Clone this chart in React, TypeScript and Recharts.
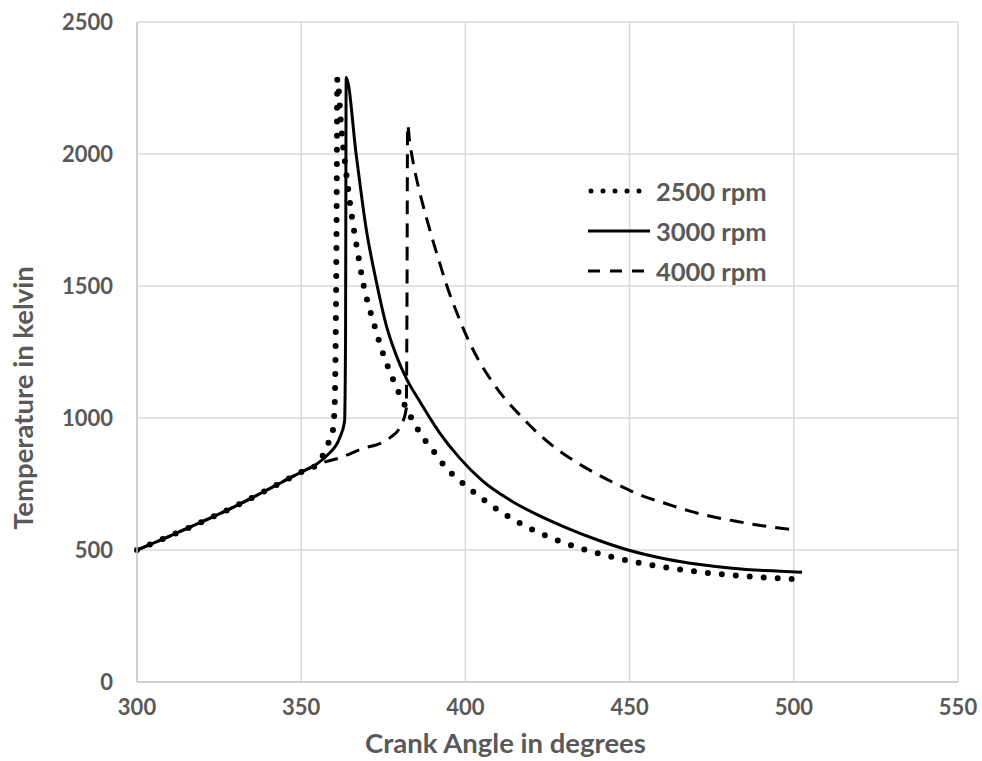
import React from 'react';
import {
  CartesianGrid,
  Label,
  Line,
  LineChart,
  XAxis,
  YAxis,
} from 'recharts';

// Compression stroke shared by all three speeds (deg, K)
const compressionAngle = [300, 310, 320, 330, 340, 350];
const compressionTemp = [500, 553, 608, 666, 730, 795];

// 2500 rpm
const angle2500 = [355, 358, 359.6, 360.2, 360.5, 360.8, 361, 362.2, 363.7, 364.7, 365.7, 367.3, 368.8, 370.8, 372.3, 374.4, 377.4, 380.5, 385, 387, 389.6, 392.1, 394.9, 397.9, 404.3, 411, 418.4, 428, 438.7, 450.9, 459.5, 468.1, 476.2, 484.8, 493.4, 502];
const temp2500 = [826, 898, 950, 1050, 1300, 1800, 2285, 2100, 1929, 1829, 1741, 1621, 1515, 1414, 1351, 1263, 1163, 1075, 968, 927, 887, 843, 801, 767, 702, 643, 590, 537, 493, 456, 437, 422, 410, 401, 394, 389];

// 3000 rpm
const angle3000 = [355, 358, 361.7, 363.2, 363.5, 363.7, 366.8, 369.8, 372.9, 375.9, 378.9, 382, 386, 392.1, 398.2, 405.3, 414.4, 422, 430.6, 440.7, 449.8, 461, 471.4, 481.2, 491.4, 502.5];
const temp3000 = [828, 860, 924, 987, 1300, 2290, 1992, 1716, 1515, 1351, 1239, 1150, 1065, 945, 849, 761, 683, 633, 585, 536, 499, 466, 445, 431, 422, 416];

// 4000 rpm
const angle4000 = [356.4, 361.7, 367.8, 376.9, 380.5, 382, 382.2, 382.4, 383, 384.5, 386, 388.1, 390.1, 392.1, 394.1, 397.7, 400.7, 403.7, 407.8, 411.9, 417, 422, 428.1, 434.1, 441.2, 447.3, 453.9, 461, 468.1, 475.7, 482.8, 490.4, 500];
const temp4000 = [830, 849, 880, 924, 975, 1037, 1400, 2110, 2050, 1942, 1860, 1760, 1672, 1590, 1510, 1389, 1301, 1226, 1144, 1075, 1006, 943, 880, 830, 780, 742, 705, 676, 648, 625, 608, 592, 577];

const xTicks = [300, 350, 400, 450, 500, 550];
const yTicks = [0, 500, 1000, 1500, 2000, 2500];

const toPoints = (angles: number[], temps: number[]) =>
  angles.map((angle, i) => ({ angle, temp: temps[i] }));

const compression = toPoints(compressionAngle, compressionTemp);
const rpm2500 = [...compression, ...toPoints(angle2500, temp2500)];
const rpm3000 = [...compression, ...toPoints(angle3000, temp3000)];
const rpm4000 = [...compression, ...toPoints(angle4000, temp4000)];

const TEXT = '#595959';
const FONT = 'Lato, "Open Sans", sans-serif';

const series = [
  { name: '2500 rpm', data: rpm2500, width: 6, dash: '0 14', cap: 'round' as const },
  { name: '3000 rpm', data: rpm3000, width: 3, dash: undefined, cap: 'butt' as const },
  { name: '4000 rpm', data: rpm4000, width: 3, dash: '14 9', cap: 'butt' as const },
];

const legendSample = [
  { width: 5, dash: '0 12', cap: 'round' as const },
  { width: 3, dash: undefined, cap: 'butt' as const },
  { width: 3, dash: '12 10', cap: 'butt' as const },
];

// legend box sits inside the plot, right of the 4000 rpm peak
function RpmLegend() {
  return (
    <div
      style={{
        position: 'absolute',
        left: 583,
        top: 171,
        fontFamily: FONT,
        fontWeight: 700,
        fontSize: 25.5,
        color: TEXT,
      }}
    >
      {series.map((s, i) => (
        <div key={s.name} style={{ display: 'flex', alignItems: 'center', height: 40 }}>
          <svg width={68} height={12} style={{ marginRight: 5 }}>
            <line
              x1={legendSample[i].cap === 'round' ? 8 : 5}
              x2={legendSample[i].cap === 'round' ? 68 : 67}
              y1={6}
              y2={6}
              stroke="#000"
              strokeWidth={legendSample[i].width}
              strokeDasharray={legendSample[i].dash}
              strokeLinecap={legendSample[i].cap}
            />
          </svg>
          <span>{s.name}</span>
        </div>
      ))}
    </div>
  );
}

const yTitle = (props: any) => {
  const vb = props.viewBox;
  const cx = 22;
  const cy = vb.y + vb.height / 2 + 46;
  return (
    <text
      x={cx}
      y={cy}
      transform={`rotate(-90, ${cx}, ${cy})`}
      textAnchor="middle"
      dominantBaseline="central"
      fill={TEXT}
      fontFamily={FONT}
      fontWeight={700}
      fontSize={27.5}
    >
      Temperature in kelvin
    </text>
  );
};

const xTitle = (props: any) => {
  const vb = props.viewBox;
  return (
    <text
      x={vb.x + vb.width / 2 - 42}
      y={vb.y + 71}
      textAnchor="middle"
      fill={TEXT}
      fontFamily={FONT}
      fontWeight={700}
      fontSize={27.5}
    >
      Crank Angle in degrees
    </text>
  );
};

export default function App() {
  return (
    <div style={{ position: 'absolute', left: 0, top: 0, width: 982, height: 761, background: '#fff' }}>
      <LineChart width={982} height={761} margin={{ top: 22, right: 24, bottom: 0, left: 0 }}>
        <CartesianGrid stroke="#d9d9d9" strokeWidth={1.5} />
        <XAxis
          type="number"
          dataKey="angle"
          domain={[300, 550]}
          ticks={xTicks}
          height={79}
          allowDuplicatedCategory={false}
          axisLine={{ stroke: '#c8c8c8', strokeWidth: 1.5 }}
          tickLine={false}
          tickSize={0}
          tickMargin={17}
          tick={{ fill: TEXT, fontFamily: FONT, fontWeight: 700, fontSize: 22 }}
        >
          <Label content={xTitle} />
        </XAxis>
        <YAxis
          type="number"
          domain={[0, 2500]}
          ticks={yTicks}
          width={137}
          axisLine={{ stroke: '#c8c8c8', strokeWidth: 1.5 }}
          tickLine={false}
          tickSize={0}
          tickMargin={24}
          tick={{ fill: TEXT, fontFamily: FONT, fontWeight: 700, fontSize: 22 }}
        >
          <Label content={yTitle} />
        </YAxis>
        {series.map((s) => (
          <Line
            key={s.name}
            name={s.name}
            data={s.data}
            dataKey="temp"
            type="monotone"
            stroke="#000"
            strokeWidth={s.width}
            strokeDasharray={s.dash}
            strokeLinecap={s.cap}
            dot={false}
            activeDot={false}
            isAnimationActive={false}
          />
        ))}
      </LineChart>
      <RpmLegend />
    </div>
  );
}
